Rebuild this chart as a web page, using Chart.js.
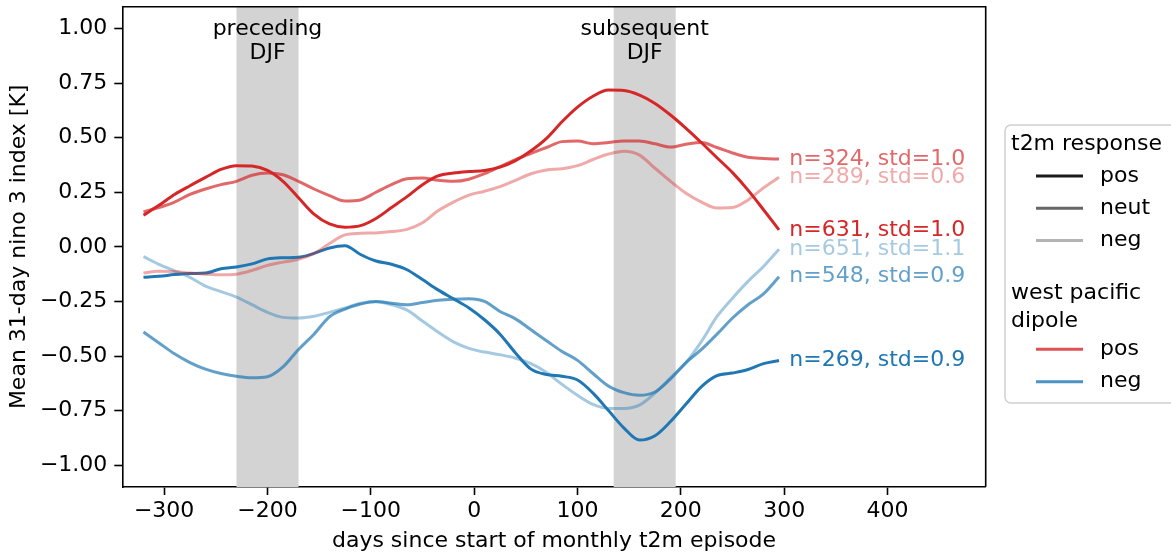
<!DOCTYPE html>
<html>
<head>
<meta charset="utf-8">
<script src="https://cdn.jsdelivr.net/npm/chart.js@4/dist/chart.umd.min.js"></script>
<style>
  html, body { margin: 0; padding: 0; background: #fff; }
  #wrap { width: 1171px; height: 554px; }
</style>
</head>
<body>
<div id="wrap"><canvas id="chart" width="1171" height="554"></canvas></div>
<script>
/* ── data (15-day steps) ── */
const days = [-320, -305, -290, -275, -260, -245, -230, -215, -200, -185, -170, -155, -140, -125,
  -110, -95, -80, -65, -50, -35, -20, -5, 10, 25, 40, 55, 70, 85, 100, 115, 130, 145, 160, 175,
  190, 205, 220, 235, 250, 265, 280, 295];

const redPos = [0.145, 0.19, 0.24, 0.28, 0.318, 0.355, 0.372, 0.37, 0.35, 0.30, 0.225, 0.15, 0.105, 0.09,
  0.097, 0.13, 0.18, 0.23, 0.285, 0.325, 0.338, 0.345, 0.35, 0.365, 0.395, 0.44, 0.497, 0.573, 0.64, 0.69,
  0.718, 0.716, 0.695, 0.657, 0.604, 0.543, 0.477, 0.408, 0.34, 0.26, 0.17, 0.078];
const redNeut = [0.16, 0.18, 0.205, 0.24, 0.265, 0.285, 0.30, 0.328, 0.338, 0.33, 0.30, 0.265, 0.235, 0.21,
  0.215, 0.25, 0.285, 0.312, 0.315, 0.305, 0.30, 0.31, 0.335, 0.367, 0.40, 0.428, 0.455, 0.482, 0.485, 0.472,
  0.478, 0.485, 0.485, 0.472, 0.457, 0.47, 0.478, 0.455, 0.43, 0.41, 0.405, 0.402];
const redNeg = [-0.12, -0.112, -0.113, -0.12, -0.125, -0.128, -0.125, -0.108, -0.085, -0.07, -0.057, -0.03, 0.015, 0.055,
  0.062, 0.064, 0.07, 0.08, 0.11, 0.165, 0.205, 0.237, 0.255, 0.276, 0.305, 0.335, 0.352, 0.358, 0.372, 0.40,
  0.425, 0.438, 0.42, 0.36, 0.30, 0.245, 0.205, 0.178, 0.18, 0.215, 0.27, 0.319];

const bluePos = [-0.139, -0.135, -0.127, -0.122, -0.12, -0.10, -0.092, -0.078, -0.055, -0.05, -0.048, -0.03, -0.005, 0.005,
  -0.035, -0.065, -0.08, -0.105, -0.15, -0.197, -0.238, -0.28, -0.334, -0.40, -0.486, -0.56, -0.585, -0.593, -0.61, -0.67,
  -0.75, -0.83, -0.885, -0.865, -0.80, -0.72, -0.64, -0.59, -0.578, -0.562, -0.535, -0.521];
const blueNeut = [-0.39, -0.44, -0.49, -0.53, -0.56, -0.58, -0.593, -0.60, -0.595, -0.55, -0.47, -0.40, -0.32, -0.285,
  -0.262, -0.25, -0.258, -0.265, -0.255, -0.245, -0.24, -0.238, -0.25, -0.296, -0.33, -0.38, -0.43, -0.479, -0.52, -0.58,
  -0.638, -0.668, -0.68, -0.665, -0.605, -0.53, -0.47, -0.40, -0.326, -0.265, -0.215, -0.137];
const blueNeg = [-0.045, -0.08, -0.11, -0.14, -0.18, -0.205, -0.23, -0.265, -0.30, -0.323, -0.326, -0.318, -0.30, -0.28,
  -0.258, -0.252, -0.265, -0.29, -0.34, -0.39, -0.435, -0.465, -0.482, -0.494, -0.51, -0.535, -0.575, -0.63, -0.68, -0.722,
  -0.74, -0.74, -0.725, -0.67, -0.60, -0.53, -0.433, -0.319, -0.235, -0.158, -0.09, -0.011];

const seriesValues = [redPos, redNeut, redNeg, bluePos, blueNeut, blueNeg];
const seriesLabels = ['n=631, std=1.0', 'n=324, std=1.0', 'n=289, std=0.6',
                      'n=269, std=0.9', 'n=548, std=0.9', 'n=651, std=1.1'];

const bandStarts = [-230, 135];
const bandEnds = [-170, 195];
const bandLabels = [['preceding', 'DJF'], ['subsequent', 'DJF']];

const xTicks = [-300, -200, -100, 0, 100, 200, 300, 400];
const yTicks = [-1.0, -0.75, -0.5, -0.25, 0.0, 0.25, 0.5, 0.75, 1.0];

const legendResponse = ['pos', 'neut', 'neg'];
const legendDipole = ['pos', 'neg'];

/* ── styles ── */
const FONT = '"DejaVu Sans", sans-serif';
const FS = 22;
// tab:red / tab:blue with alpha 1, .7, .4 for pos / neut / neg
const lineColors = [
  'rgba(214,39,40,1)', 'rgba(214,39,40,0.7)', 'rgba(214,39,40,0.4)',
  'rgba(31,119,180,1)', 'rgba(31,119,180,0.7)', 'rgba(31,119,180,0.4)',
];
const respColors = ['#1a1a1a', '#666666', '#b3b3b3'];
const dipoleColors = ['rgba(214,39,40,0.8)', 'rgba(31,119,180,0.8)'];

const minus = s => String(s).replace('-', '\u2212');

// grey DJF bands behind the lines
const bandsPlugin = {
  id: 'bands',
  beforeDatasetsDraw(chart) {
    const { ctx, chartArea: a, scales: { x } } = chart;
    ctx.save();
    ctx.fillStyle = '#d3d3d3';
    bandStarts.forEach((s, i) => {
      const x0 = x.getPixelForValue(s), x1 = x.getPixelForValue(bandEnds[i]);
      ctx.fillRect(x0, a.top, x1 - x0, a.bottom - a.top);
    });
    ctx.restore();
  }
};

// top/right spines, band captions, end-of-line labels, two-part legend
const textPlugin = {
  id: 'texts',
  afterDraw(chart) {
    const { ctx, chartArea: a, scales: { x, y } } = chart;
    ctx.save();

    ctx.strokeStyle = '#000';
    ctx.lineWidth = 1.6;
    ctx.beginPath();
    ctx.moveTo(a.left, a.top);
    ctx.lineTo(a.right, a.top);
    ctx.lineTo(a.right, a.bottom);
    ctx.stroke();

    ctx.font = `${FS}px ${FONT}`;
    ctx.textBaseline = 'middle';

    // band captions
    ctx.fillStyle = '#000';
    ctx.textAlign = 'center';
    bandStarts.forEach((s, i) => {
      const cx = x.getPixelForValue((s + bandEnds[i]) / 2);
      bandLabels[i].forEach((t, j) => ctx.fillText(t, cx, a.top + 23 + j * 24));
    });

    // n / std labels at the end of each line
    ctx.textAlign = 'left';
    seriesValues.forEach((vals, i) => {
      const lx = x.getPixelForValue(days[days.length - 1] + 10);
      const ly = y.getPixelForValue(vals[vals.length - 1]);
      ctx.fillStyle = lineColors[i];
      ctx.fillText(seriesLabels[i], lx, ly);
    });

    // legend box
    const bx = 1005, by = 125, bw = 185, bh = 278, r = 6;
    ctx.beginPath();
    ctx.moveTo(bx + r, by);
    ctx.lineTo(bx + bw, by);
    ctx.lineTo(bx + bw, by + bh);
    ctx.lineTo(bx + r, by + bh);
    ctx.arcTo(bx, by + bh, bx, by + bh - r, r);
    ctx.lineTo(bx, by + r);
    ctx.arcTo(bx, by, bx + r, by, r);
    ctx.closePath();
    ctx.fillStyle = 'rgba(255,255,255,0.8)';
    ctx.fill();
    ctx.strokeStyle = '#d0d0d0';
    ctx.lineWidth = 1.5;
    ctx.stroke();

    const drawEntry = (label, color, yy) => {
      ctx.strokeStyle = color;
      ctx.lineWidth = 3;
      ctx.beginPath();
      ctx.moveTo(1036, yy);
      ctx.lineTo(1083, yy);
      ctx.stroke();
      ctx.fillStyle = '#000';
      ctx.fillText(label, 1100, yy);
    };

    ctx.fillStyle = '#000';
    ctx.fillText('t2m response', 1011, 144);
    legendResponse.forEach((l, i) => drawEntry(l, respColors[i], 176 + i * 32.3));
    ctx.fillStyle = '#000';
    ctx.fillText('west pacific', 1011, 293);
    ctx.fillText('dipole', 1011, 321);
    legendDipole.forEach((l, i) => drawEntry(l, dipoleColors[i], 349.3 + i * 32.4));

    ctx.restore();
  }
};

const datasets = seriesValues.map((vals, i) => ({
  label: seriesLabels[i],
  data: days.map((d, k) => ({ x: d, y: vals[k] })),
  borderColor: lineColors[i],
  backgroundColor: lineColors[i],
  borderWidth: 3,
  pointRadius: 0,
  fill: false,
  cubicInterpolationMode: 'monotone',
}));

const noPad = s => { s.paddingTop = 0; s.paddingBottom = 0; s.paddingLeft = 0; s.paddingRight = 0; };

new Chart(document.getElementById('chart'), {
  type: 'line',
  data: { datasets },
  options: {
    responsive: false,
    animation: false,
    devicePixelRatio: 1,
    layout: { padding: { left: 0, right: 185.3, top: 6.7, bottom: 0 } },
    plugins: { legend: { display: false }, tooltip: { enabled: false } },
    scales: {
      x: {
        type: 'linear',
        min: -340.5, max: 495,
        afterBuildTicks: s => { s.ticks = xTicks.map(v => ({ value: v })); },
        afterFit: s => { s.height = 67; noPad(s); },
        ticks: {
          font: { family: FONT, size: FS }, color: '#000', padding: 3,
          maxRotation: 0, autoSkip: false,
          callback: v => minus(v),
        },
        grid: { drawOnChartArea: false, drawTicks: true, tickLength: 8, tickWidth: 1.6, tickColor: '#000' },
        border: { display: true, color: '#000', width: 1.6 },
        title: {
          display: true, text: 'days since start of monthly t2m episode',
          font: { family: FONT, size: FS }, color: '#000', padding: { top: 0, bottom: 0 },
        },
      },
      y: {
        min: -1.1, max: 1.1,
        afterBuildTicks: s => { s.ticks = yTicks.map(v => ({ value: v })); },
        afterFit: s => { s.width = 122.3; noPad(s); },
        ticks: {
          font: { family: FONT, size: FS }, color: '#000', padding: 7,
          autoSkip: false,
          callback: v => minus(v.toFixed(2)),
        },
        grid: { drawOnChartArea: false, drawTicks: true, tickLength: 8, tickWidth: 1.6, tickColor: '#000' },
        border: { display: true, color: '#000', width: 1.6 },
        title: {
          display: true, text: 'Mean 31-day nino 3 index [K]',
          font: { family: FONT, size: FS }, color: '#000', padding: { top: 6, bottom: 0 },
        },
      },
    },
  },
  plugins: [bandsPlugin, textPlugin],
});
</script>
</body>
</html>
